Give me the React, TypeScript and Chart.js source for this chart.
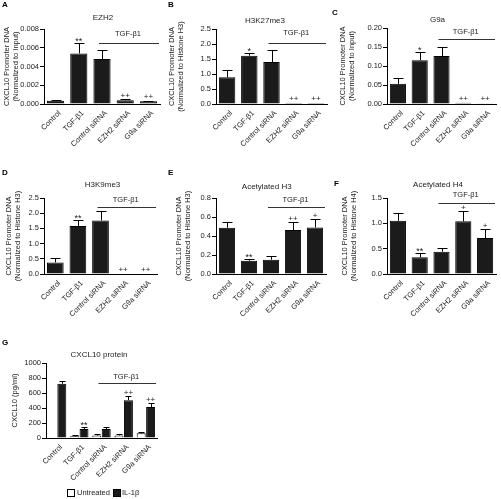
import React, { useEffect, useRef } from "react";
import { Chart, registerables } from "chart.js";

Chart.register(...registerables);

const FONT = "'Liberation Sans', Arial, Helvetica, sans-serif";
const DARK = "#1b1b1b";
const INK = "#222";

// ---------- data ----------
const categories = ["Control", "TGF-β1", "Control siRNA", "EZH2 siRNA", "G9a siRNA"];

const ezh2Ticks = [0, 0.002, 0.004, 0.006, 0.008];
const ezh2Values = [0.00035, 0.0054, 0.0048, 0.0004, 0.0003];
const ezh2Errors = [0.0001, 0.0011, 0.001, 0.0001, 0.00005];
const ezh2Marks = ["", "**", "", "++", "++"];

const h3k27Ticks = [0, 0.5, 1.0, 1.5, 2.0, 2.5];
const h3k27Values = [0.89, 1.61, 1.4, 0.03, 0.03];
const h3k27Errors = [0.25, 0.09, 0.39, 0, 0];
const h3k27Marks = ["", "*", "", "++", "++"];

const g9aTicks = [0, 0.05, 0.1, 0.15, 0.2];
const g9aValues = [0.053, 0.115, 0.126, 0.003, 0.002];
const g9aErrors = [0.015, 0.021, 0.025, 0, 0];
const g9aMarks = ["", "*", "", "++", "++"];

const h3k9Ticks = [0, 0.5, 1.0, 1.5, 2.0, 2.5];
const h3k9Values = [0.38, 1.58, 1.76, 0, 0];
const h3k9Errors = [0.13, 0.21, 0.3, 0, 0];
const h3k9Marks = ["", "**", "", "++", "++"];

const acH3Ticks = [0, 0.2, 0.4, 0.6, 0.8];
const acH3Values = [0.487, 0.139, 0.15, 0.463, 0.49];
const acH3Errors = [0.056, 0.021, 0.038, 0.08, 0.094];
const acH3Marks = ["", "**", "", "++", "+"];

const acH4Ticks = [0, 0.5, 1.0, 1.5];
const acH4Values = [1.05, 0.33, 0.44, 1.04, 0.71];
const acH4Errors = [0.16, 0.08, 0.07, 0.2, 0.17];
const acH4Marks = ["", "**", "", "+", "+"];

const cxclTicks = [0, 200, 400, 600, 800, 1000];
const cxclUntreated = [0, 22, 32, 35, 62];
const cxclUntreatedErr = [0, 20, 15, 20, 22];
const cxclUntreatedMarks = ["", "", "", "", ""];
const cxclIL1b = [723, 120, 120, 505, 413];
const cxclIL1bErr = [34, 32, 30, 55, 50];
const cxclIL1bMarks = ["", "**", "", "++", "++"];
const legendLabels = ["Untreated", "IL-1β"];

// ---------- panel specs ----------
type Series = { label: string; values: number[]; errors: number[]; marks: string[]; fill: string };
type Spec = {
  letter: string;
  title: string;
  yTitle: string[];
  ticks: number[];
  decimals: number;
  series: Series[];
  box: { left: number; top: number; w: number; h: number };
  plot: { axisX: number; top: number; right: number; bottom: number };
  titleX: number;
  titleY: number;
  bracketY: number;
  bracketTextY: number;
  letterX: number;
  letterY: number;
  yTitleX: number;
  capHalf: number;
  grouped?: boolean;
  legendY?: number;
};

const promoterInput = ["CXCL10 Promoter DNA", "(Normalized to Input)"];
const promoterH3 = ["CXCL10 Promoter DNA", "(Normalized to Histone H3)"];
const promoterH4 = ["CXCL10 Promoter DNA", "(Normalized to Histone H4)"];

const single = (values: number[], errors: number[], marks: string[]): Series[] => [
  { label: "", values, errors, marks, fill: DARK },
];

const specs: Spec[] = [
  {
    letter: "A", title: "EZH2", yTitle: promoterInput, ticks: ezh2Ticks, decimals: 3,
    series: single(ezh2Values, ezh2Errors, ezh2Marks),
    box: { left: 0, top: 0, w: 165, h: 160 }, plot: { axisX: 44, top: 29, right: 160, bottom: 104 },
    titleX: 103, titleY: 18, bracketY: 43, bracketTextY: 34, letterX: 2, letterY: 5, yTitleX: 7, capHalf: 5,
  },
  {
    letter: "B", title: "H3K27me3", yTitle: promoterH3, ticks: h3k27Ticks, decimals: 1,
    series: single(h3k27Values, h3k27Errors, h3k27Marks),
    box: { left: 165, top: 0, w: 165, h: 160 }, plot: { axisX: 51, top: 29, right: 162, bottom: 104 },
    titleX: 100, titleY: 21, bracketY: 43, bracketTextY: 33, letterX: 3, letterY: 5, yTitleX: 7, capHalf: 5,
  },
  {
    letter: "C", title: "G9a", yTitle: promoterInput, ticks: g9aTicks, decimals: 2,
    series: single(g9aValues, g9aErrors, g9aMarks),
    box: { left: 330, top: 0, w: 171, h: 160 }, plot: { axisX: 57, top: 28, right: 166, bottom: 104 },
    titleX: 107.5, titleY: 20, bracketY: 39, bracketTextY: 32, letterX: 2, letterY: 12.5, yTitleX: 12.5, capHalf: 5,
  },
  {
    letter: "D", title: "H3K9me3", yTitle: promoterH3, ticks: h3k9Ticks, decimals: 1,
    series: single(h3k9Values, h3k9Errors, h3k9Marks),
    box: { left: 0, top: 160, w: 165, h: 160 }, plot: { axisX: 44, top: 38, right: 157, bottom: 114 },
    titleX: 102.5, titleY: 25, bracketY: 47, bracketTextY: 40, letterX: 2, letterY: 12.5, yTitleX: 9, capHalf: 5,
  },
  {
    letter: "E", title: "Acetylated H3", yTitle: promoterH3, ticks: acH3Ticks, decimals: 1,
    series: single(acH3Values, acH3Errors, acH3Marks),
    box: { left: 165, top: 160, w: 165, h: 160 }, plot: { axisX: 51, top: 38, right: 161, bottom: 114 },
    titleX: 101.7, titleY: 27, bracketY: 47, bracketTextY: 40, letterX: 3, letterY: 12.5, yTitleX: 14, capHalf: 5,
  },
  {
    letter: "F", title: "Acetylated H4", yTitle: promoterH4, ticks: acH4Ticks, decimals: 1,
    series: single(acH4Values, acH4Errors, acH4Marks),
    box: { left: 330, top: 160, w: 171, h: 160 }, plot: { axisX: 57, top: 38, right: 166, bottom: 114 },
    titleX: 108, titleY: 25, bracketY: 43, bracketTextY: 35, letterX: 4, letterY: 24, yTitleX: 15, capHalf: 5,
  },
  {
    letter: "G", title: "CXCL10 protein", yTitle: ["CXCL10 (pg/ml)"], ticks: cxclTicks, decimals: 0,
    series: [
      { label: legendLabels[0], values: cxclUntreated, errors: cxclUntreatedErr, marks: cxclUntreatedMarks, fill: "#ffffff" },
      { label: legendLabels[1], values: cxclIL1b, errors: cxclIL1bErr, marks: cxclIL1bMarks, fill: DARK },
    ],
    box: { left: 0, top: 320, w: 170, h: 179 }, plot: { axisX: 46, top: 43, right: 157, bottom: 118 },
    titleX: 99, titleY: 35, bracketY: 63, bracketTextY: 57, letterX: 2, letterY: 23, yTitleX: 15, capHalf: 3,
    grouped: true, legendY: 173,
  },
];

function makeConfig(spec: Spec): any {
  const { box, plot } = spec;
  const extras = {
    id: "extras" + spec.letter,
    afterDraw(chart: any) {
      const ctx = chart.ctx as CanvasRenderingContext2D;
      const xs = chart.scales.x;
      const ys = chart.scales.y;
      const area = chart.chartArea;
      ctx.save();
      // error bars + significance marks
      ctx.strokeStyle = "#000";
      ctx.lineWidth = 1;
      ctx.fillStyle = INK;
      spec.series.forEach((s, di) => {
        const meta = chart.getDatasetMeta(di);
        meta.data.forEach((bar: any, i: number) => {
          const v = s.values[i];
          const e = s.errors[i];
          const bx = Math.round(bar.x) + 0.5;
          const top = ys.getPixelForValue(v);
          const et = Math.round(ys.getPixelForValue(v + e)) + 0.5;
          if (e > 0) {
            ctx.beginPath();
            ctx.moveTo(bx, top);
            ctx.lineTo(bx, et);
            ctx.moveTo(bx - spec.capHalf, et);
            ctx.lineTo(bx + spec.capHalf, et);
            ctx.stroke();
          }
          const m = s.marks[i];
          if (m) {
            const isStar = m.indexOf("*") >= 0;
            ctx.font = `${isStar ? 9 : 8}px ${FONT}`;
            ctx.textAlign = "center";
            ctx.textBaseline = "alphabetic";
            ctx.fillText(m, bar.x, Math.min(et, top) - (isStar ? 0 : 2));
          }
        });
      });
      // category labels, rotated 45°
      ctx.font = `7.5px ${FONT}`;
      ctx.fillStyle = INK;
      categories.forEach((c, i) => {
        const px = xs.getPixelForValue(i);
        ctx.save();
        ctx.translate(px + 4, area.bottom + 8);
        ctx.rotate(-Math.PI / 4);
        ctx.textAlign = "right";
        ctx.textBaseline = "middle";
        ctx.fillText(c, 0, 0);
        ctx.restore();
      });
      // title
      ctx.font = `8px ${FONT}`;
      ctx.textAlign = "center";
      ctx.textBaseline = "middle";
      ctx.fillText(spec.title, spec.titleX, spec.titleY);
      // TGF-β1 bracket
      const bx0 = xs.getPixelForValue(2) - 3;
      const bx1 = area.right - 1;
      ctx.beginPath();
      ctx.moveTo(bx0, spec.bracketY + 0.5);
      ctx.lineTo(bx1, spec.bracketY + 0.5);
      ctx.strokeStyle = "#333";
      ctx.stroke();
      ctx.font = `7.5px ${FONT}`;
      ctx.fillText("TGF-β1", (bx0 + bx1) / 2 - 1, spec.bracketTextY);
      // panel letter
      ctx.font = `bold 8px ${FONT}`;
      ctx.textAlign = "left";
      ctx.fillStyle = "#000";
      ctx.fillText(spec.letter, spec.letterX, spec.letterY);
      // legend
      if (spec.legendY !== undefined) {
        const ly = spec.legendY;
        ctx.font = `7.5px ${FONT}`;
        ctx.fillStyle = INK;
        ctx.textBaseline = "middle";
        const items = [
          { x: 67, fill: spec.series[0].fill, label: spec.series[0].label, tx: 77 },
          { x: 113, fill: spec.series[1].fill, label: spec.series[1].label, tx: 122 },
        ];
        items.forEach((it) => {
          ctx.fillStyle = it.fill;
          ctx.fillRect(it.x + 0.5, ly - 3.5, 7, 7);
          ctx.strokeStyle = "#000";
          ctx.strokeRect(it.x + 0.5, ly - 3.5, 7, 7);
          ctx.fillStyle = INK;
          ctx.fillText(it.label, it.tx, ly);
        });
      }
      ctx.restore();
    },
  };

  return {
    type: "bar",
    data: {
      labels: categories,
      datasets: spec.series.map((s) => ({
        label: s.label,
        data: s.values,
        backgroundColor: s.fill,
        borderColor: "#000",
        borderWidth: 1,
        categoryPercentage: spec.grouped ? 0.85 : 1,
        barPercentage: spec.grouped ? 0.95 : 0.74,
      })),
    },
    options: {
      responsive: false,
      maintainAspectRatio: false,
      animation: false,
      devicePixelRatio: 1,
      events: [],
      layout: { padding: { left: 0, top: plot.top, right: box.w - plot.right, bottom: 0 } },
      plugins: { legend: { display: false }, title: { display: false }, tooltip: { enabled: false } },
      scales: {
        x: {
          type: "category",
          offset: true,
          grid: { display: false },
          border: { display: true, color: "#000", width: 1 },
          ticks: { display: false },
          afterFit: (s: any) => {
            s.height = box.h - plot.bottom;
          },
        },
        y: {
          min: spec.ticks[0],
          max: spec.ticks[spec.ticks.length - 1],
          grid: { drawOnChartArea: false, tickLength: 4, color: "#000", tickWidth: 1 },
          border: { display: true, color: "#000", width: 1 },
          ticks: {
            font: { family: FONT, size: 7.5 },
            color: INK,
            padding: 1,
            callback: (v: any) => Number(v).toFixed(spec.decimals),
          },
          afterBuildTicks: (s: any) => {
            s.ticks = spec.ticks.map((v) => ({ value: v }));
          },
          afterFit: (s: any) => {
            s.width = plot.axisX;
          },
          title: {
            display: true,
            text: spec.yTitle,
            font: { family: FONT, size: 7.5, lineHeight: 1.2 },
            color: INK,
            padding: { top: spec.yTitleX - 4.5, bottom: 0 },
          },
        },
      },
    },
    plugins: [extras],
  };
}

function Panel({ spec }: { spec: Spec }) {
  const ref = useRef<HTMLCanvasElement>(null);
  useEffect(() => {
    const canvas = ref.current;
    if (!canvas) return;
    const chart = new Chart(canvas, makeConfig(spec));
    return () => chart.destroy();
  }, [spec]);
  return (
    <canvas
      ref={ref}
      width={spec.box.w}
      height={spec.box.h}
      style={{
        position: "absolute",
        left: spec.box.left,
        top: spec.box.top,
        width: spec.box.w,
        height: spec.box.h,
      }}
    />
  );
}

export default function App() {
  return (
    <div
      style={{
        position: "absolute",
        left: 0,
        top: 0,
        width: 501,
        height: 499,
        background: "#fff",
        overflow: "hidden",
      }}
    >
      {specs.map((s) => (
        <Panel key={s.letter} spec={s} />
      ))}
    </div>
  );
}
